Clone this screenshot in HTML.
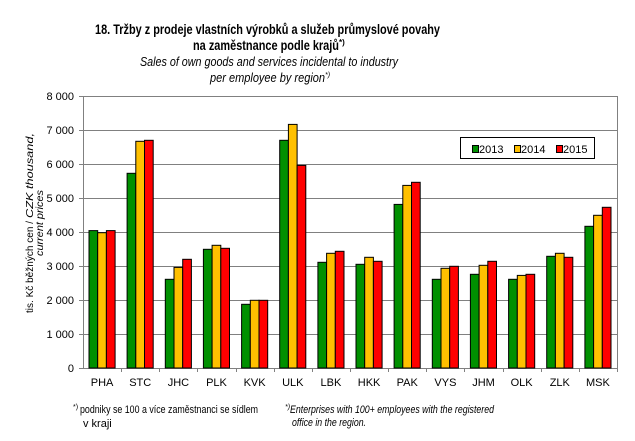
<!DOCTYPE html>
<html><head><meta charset="utf-8"><style>
html,body{margin:0;padding:0;background:#fff;}
svg{display:block;font-family:"Liberation Sans",Arial,sans-serif;}
</style></head><body>
<svg width="635" height="441" viewBox="0 0 635 441" xmlns="http://www.w3.org/2000/svg">
<rect width="635" height="441" fill="#fff"/>
<g fill="#000">
<text x="95" y="34" font-size="14" font-weight="bold" textLength="345" lengthAdjust="spacingAndGlyphs">18. Tržby z prodeje vlastních výrobků a služeb průmyslové povahy</text>
<text x="193" y="50" font-size="14" font-weight="bold" textLength="146" lengthAdjust="spacingAndGlyphs">na zaměstnance podle krajů</text>
<text x="339" y="45" font-size="8" font-weight="bold">*)</text>
<text x="140" y="66" font-size="13" font-style="italic" textLength="258" lengthAdjust="spacingAndGlyphs">Sales of own goods and services incidental to industry</text>
<text x="210" y="82" font-size="13" font-style="italic" textLength="115" lengthAdjust="spacingAndGlyphs">per employee by region</text>
<text x="325" y="77" font-size="7" font-style="italic">*)</text>
</g>
<g stroke="#808080" stroke-width="1">
<line x1="83" y1="96.5" x2="617" y2="96.5"/>
<line x1="83" y1="130.5" x2="617" y2="130.5"/>
<line x1="83" y1="164.5" x2="617" y2="164.5"/>
<line x1="83" y1="198.5" x2="617" y2="198.5"/>
<line x1="83" y1="232.5" x2="617" y2="232.5"/>
<line x1="83" y1="266.5" x2="617" y2="266.5"/>
<line x1="83" y1="300.5" x2="617" y2="300.5"/>
<line x1="83" y1="334.5" x2="617" y2="334.5"/>
<line x1="83" y1="368.5" x2="617" y2="368.5"/>
<line x1="83.5" y1="96" x2="83.5" y2="368"/>
<line x1="617.5" y1="96" x2="617.5" y2="368"/>
</g>
<g font-size="11" text-anchor="end" fill="#000">
<text x="74" y="100">8 000</text><text x="74" y="134">7 000</text><text x="74" y="168">6 000</text><text x="74" y="202">5 000</text><text x="74" y="236">4 000</text><text x="74" y="270">3 000</text><text x="74" y="304">2 000</text><text x="74" y="338">1 000</text><text x="74" y="372">0</text>
</g>
<g stroke="#808080"><line x1="79" y1="96.5" x2="83" y2="96.5"/><line x1="79" y1="130.5" x2="83" y2="130.5"/><line x1="79" y1="164.5" x2="83" y2="164.5"/><line x1="79" y1="198.5" x2="83" y2="198.5"/><line x1="79" y1="232.5" x2="83" y2="232.5"/><line x1="79" y1="266.5" x2="83" y2="266.5"/><line x1="79" y1="300.5" x2="83" y2="300.5"/><line x1="79" y1="334.5" x2="83" y2="334.5"/><line x1="79" y1="368.5" x2="83" y2="368.5"/></g>
<g font-size="10">
<text transform="translate(33,313) rotate(-90)" textLength="92" lengthAdjust="spacingAndGlyphs">tis. Kč běžných cen /</text>
<text transform="translate(33,218) rotate(-90)" font-style="italic" textLength="85" lengthAdjust="spacingAndGlyphs">CZK thousand,</text>
<text transform="translate(43,223) rotate(-90)" font-style="italic" text-anchor="middle" textLength="66" lengthAdjust="spacingAndGlyphs">current prices</text>
</g>
<g id="bars" stroke="#000" stroke-width="1"></g>
<g id="ticks" stroke="#808080"></g>
<g id="cats" font-size="11" text-anchor="middle"></g>
<rect x="460.5" y="137.5" width="134" height="21" fill="#fff" stroke="#000"/>
<g font-size="11">
<rect x="472.5" y="145.5" width="6" height="7" fill="#009000" stroke="#000"/><text x="479" y="153">2013</text>
<rect x="514.5" y="145.5" width="6" height="7" fill="#ffc000" stroke="#000"/><text x="521" y="153">2014</text>
<rect x="556.5" y="145.5" width="6" height="7" fill="#ff0000" stroke="#000"/><text x="563" y="153">2015</text>
</g>
<g font-size="11">
<text x="73" y="409" font-size="7">*)</text>
<text x="80" y="413" textLength="178" lengthAdjust="spacingAndGlyphs">podniky se 100 a více zaměstnanci se sídlem</text>
<text x="83" y="427">v kraji</text>
<text x="285" y="409" font-size="7" font-style="italic">*)</text>
<text x="290" y="413" font-style="italic" textLength="204" lengthAdjust="spacingAndGlyphs">Enterprises with 100+ employees with the registered</text>
<text x="292" y="426" font-style="italic" textLength="74" lengthAdjust="spacingAndGlyphs">office in the region.</text>
</g>
<script>
var cats=["PHA","STC","JHC","PLK","KVK","ULK","LBK","HKK","PAK","VYS","JHM","OLK","ZLK","MSK"];
var d=[[4040,3980,4040],[5726,6667,6696],[2608,2960,3196],[3490,3608,3520],[1873,1990,1990],[6696,7166,5960],[3108,3373,3431],[3049,3255,3137],[4813,5372,5461],[2608,2931,2990],[2755,3020,3137],[2608,2725,2755],[3284,3373,3255],[4167,4490,4725]];
var col=["#009000","#ffc000","#ff0000"];
var ns="http://www.w3.org/2000/svg",b=document.getElementById("bars"),t=document.getElementById("ticks"),c=document.getElementById("cats");
var w=(617-83)/14;
for(var i=0;i<14;i++){var x0=83+w*i;
 for(var j=0;j<3;j++){var v=d[i][j],h=v*0.034,r=document.createElementNS(ns,"rect");
  r.setAttribute("x",(x0+6+j*8.7).toFixed(1));r.setAttribute("y",(368-h).toFixed(1));r.setAttribute("width","8.7");r.setAttribute("height",h.toFixed(1));r.setAttribute("fill",col[j]);b.appendChild(r);}
 var l=document.createElementNS(ns,"line");var tx=Math.round(x0+w)+0.5;l.setAttribute("x1",tx);l.setAttribute("x2",tx);l.setAttribute("y1",368);l.setAttribute("y2",372);t.appendChild(l);
 var s=document.createElementNS(ns,"text");s.setAttribute("x",(x0+w/2).toFixed(1));s.setAttribute("y","386");s.textContent=cats[i];c.appendChild(s);}
</script>
</svg>
</body></html>
